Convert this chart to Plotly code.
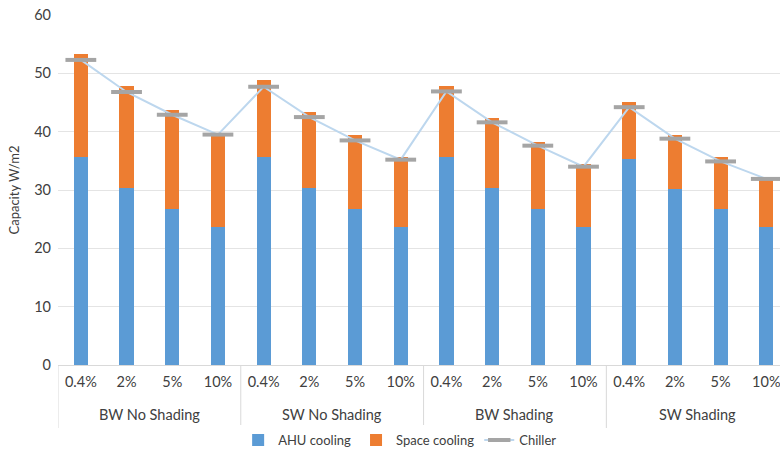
import plotly.graph_objects as go

groups = ["BW No Shading", "SW No Shading", "BW Shading", "SW Shading"]
subcats = ["0.4%", "2%", "5%", "10%"]

ahu = [35.6, 30.4, 26.7, 23.6,
       35.6, 30.4, 26.7, 23.6,
       35.6, 30.4, 26.7, 23.6,
       35.4, 30.2, 26.7, 23.6]
total = [53.4, 47.8, 43.8, 39.8,
         48.8, 43.3, 39.4, 35.7,
         47.9, 42.3, 38.2, 34.5,
         45.1, 39.5, 35.6, 31.9]
space = [round(t - a, 2) for t, a in zip(total, ahu)]
chiller = [52.3, 46.8, 42.9, 39.5,
           47.7, 42.5, 38.5, 35.2,
           46.9, 41.6, 37.6, 34.0,
           44.2, 38.8, 34.9, 31.9]

n_sub = len(subcats)
x = list(range(len(groups) * n_sub))
ticktext = [s for _ in groups for s in subcats]

font = "Lato"
txt = "#404040"
fig = go.Figure()
fig.add_trace(go.Bar(x=x, y=ahu, name="AHU cooling", marker=dict(color="#5B9BD5", line=dict(width=0)), width=0.31))
fig.add_trace(go.Bar(x=x, y=space, name="Space cooling", marker=dict(color="#ED7D31", line=dict(width=0)), width=0.31))
fig.add_trace(go.Scatter(x=x, y=chiller, name="Chiller", mode="lines+markers",
                         line=dict(color="#BDD7EE", width=2),
                         marker=dict(symbol="line-ew", size=22, line=dict(color="#A5A5A5", width=4))))

# group labels and dividers
for gi, g in enumerate(groups):
    fig.add_annotation(x=gi * n_sub + (n_sub - 1) / 2, y=-0.14, xref="x", yref="paper",
                       text=g, showarrow=False, yanchor="middle",
                       font=dict(size=14.5, color=txt, family=font))
for gi in range(len(groups)):
    fig.add_shape(type="line", xref="x", yref="paper", x0=gi * n_sub - 0.5, x1=gi * n_sub - 0.5,
                  y0=0, y1=-0.18, line=dict(color="#D9D9D9", width=1))

fig.update_layout(
    barmode="stack",
    width=780, height=454,
    margin=dict(l=58, r=0, t=15, b=89, autoexpand=False),
    paper_bgcolor="white", plot_bgcolor="white",
    font=dict(family=font, size=13, color=txt),
    legend=dict(orientation="h", xref="container", x=0.513, xanchor="center",
                yref="container", y=(454 - 440) / 454, yanchor="middle",
                font=dict(size=13, color=txt), itemwidth=30, traceorder="normal"),
    showlegend=True,
)
fig.update_yaxes(range=[0, 60], dtick=10, showgrid=True, gridcolor="#E4E4E4", gridwidth=1,
                 zeroline=False, showline=False, ticks="", automargin=False,
                 tickfont=dict(size=14.5, color=txt), ticklabelstandoff=6,
                 title=dict(text="Capacity W/m2", font=dict(size=13, color=txt), standoff=11))
fig.update_xaxes(range=[-0.5, 15.3], showline=True, linecolor="#D9D9D9", linewidth=1,
                 tickvals=x, ticktext=ticktext, automargin=False, ticklabeloverflow="allow",
                 tickfont=dict(size=14.5, color=txt), ticks="", showgrid=False, zeroline=False,
                 ticklabelstandoff=4)

fig.write_html("out.html", config={"displayModeBar": False},
               post_script="document.body.style.margin='0';document.body.style.overflow='hidden';")
